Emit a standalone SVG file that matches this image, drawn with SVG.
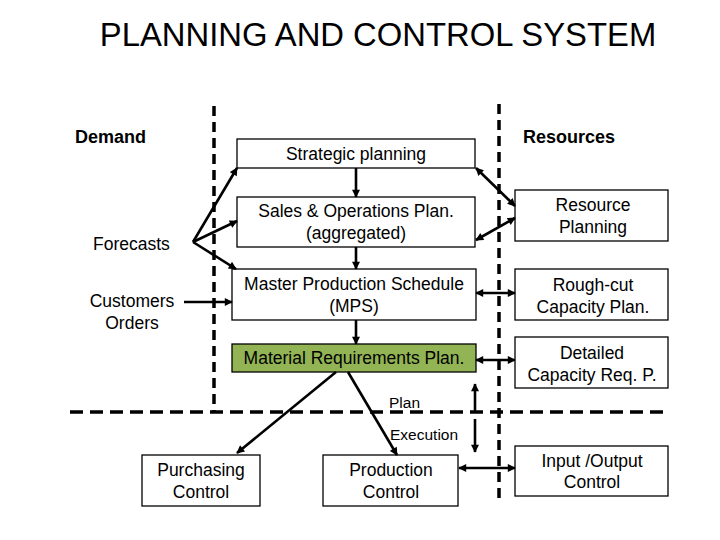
<svg xmlns="http://www.w3.org/2000/svg" width="720" height="540" viewBox="0 0 720 540">
<style>
.t{font-family:"Liberation Sans",Arial,sans-serif;fill:#000}
.box{fill:#fff;stroke:#000;stroke-width:1.3}
.bt{font-size:17.5px;text-anchor:middle}
.c{stroke:#000;stroke-width:2.6;fill:none}
.d{stroke:#000;stroke-width:3.5;fill:none}
</style>
<defs>
<marker id="ah" viewBox="0 0 10 10" refX="9" refY="5" markerWidth="9" markerHeight="8" markerUnits="userSpaceOnUse" orient="auto-start-reverse">
<path d="M0,0 L10,5 L0,10 z" fill="#000"/>
</marker>
</defs>
<rect width="720" height="540" fill="#fff"/>
<text class="t" x="378" y="46" font-size="32.8" text-anchor="middle">PLANNING AND CONTROL SYSTEM</text>

<g id="boundaries">
<line class="d" x1="214" y1="106" x2="214" y2="412" stroke-dasharray="10 6"/>
<line class="d" x1="499" y1="104" x2="499" y2="502" stroke-dasharray="10 6"/>
<line class="d" x1="70" y1="412" x2="668" y2="412" stroke-dasharray="13 7"/>
</g>

<g id="labels">
<text class="t" x="75" y="143" font-size="18" font-weight="bold">Demand</text>
<text class="t" x="569" y="143" font-size="18" font-weight="bold" text-anchor="middle">Resources</text>
<text class="t" x="93" y="250" font-size="17.5">Forecasts</text>
<text class="t" x="132" y="307" font-size="17.5" text-anchor="middle">Customers</text>
<text class="t" x="132" y="329" font-size="17.5" text-anchor="middle">Orders</text>
<text class="t" x="389" y="408" font-size="15.5" fill="#222">Plan</text>
<text class="t" x="390" y="440" font-size="15.5" fill="#222">Execution</text>
</g>

<g id="strategic">
<rect class="box" x="237" y="139" width="238" height="29"/>
<text class="t bt" x="356" y="160">Strategic planning</text>
</g>
<g id="sop">
<rect class="box" x="237" y="197" width="238" height="50"/>
<text class="t bt" x="356" y="217">Sales &amp; Operations Plan.</text>
<text class="t bt" x="356" y="239">(aggregated)</text>
</g>
<g id="mps">
<rect class="box" x="232" y="269" width="244" height="51"/>
<text class="t bt" x="354" y="290">Master Production Schedule</text>
<text class="t bt" x="354" y="312">(MPS)</text>
</g>
<g id="mrp">
<rect x="232" y="344" width="244" height="28" fill="#92b454" stroke="#000" stroke-width="1.3"/>
<text class="t bt" x="354" y="364">Material Requirements Plan.</text>
</g>
<g id="resource-planning">
<rect class="box" x="515" y="190" width="153" height="51"/>
<text class="t bt" x="593" y="211">Resource</text>
<text class="t bt" x="593" y="233">Planning</text>
</g>
<g id="rough-cut">
<rect class="box" x="515" y="269" width="153" height="51"/>
<text class="t bt" x="593" y="291">Rough-cut</text>
<text class="t bt" x="593" y="313">Capacity Plan.</text>
</g>
<g id="detailed">
<rect class="box" x="515" y="337" width="153" height="51"/>
<text class="t bt" x="592" y="359">Detailed</text>
<text class="t bt" x="592" y="381">Capacity Req. P.</text>
</g>
<g id="io-control">
<rect class="box" x="515" y="446" width="153" height="50"/>
<text class="t bt" x="592" y="467">Input /Output</text>
<text class="t bt" x="592" y="488">Control</text>
</g>
<g id="purchasing">
<rect class="box" x="142" y="455" width="118" height="51"/>
<text class="t bt" x="201" y="476">Purchasing</text>
<text class="t bt" x="201" y="498">Control</text>
</g>
<g id="production">
<rect class="box" x="323" y="455" width="135" height="51"/>
<text class="t bt" x="391" y="476">Production</text>
<text class="t bt" x="391" y="498">Control</text>
</g>

<g id="connectors">
<line class="c" x1="193" y1="242" x2="237" y2="168" marker-end="url(#ah)"/>
<line class="c" x1="193" y1="242" x2="237" y2="221" marker-end="url(#ah)"/>
<line class="c" x1="193" y1="242" x2="236" y2="269" marker-end="url(#ah)"/>
<line class="c" x1="184" y1="302" x2="232" y2="302" marker-end="url(#ah)"/>
<line class="c" x1="356" y1="168" x2="356" y2="197" marker-end="url(#ah)"/>
<line class="c" x1="356" y1="247" x2="356" y2="269" marker-end="url(#ah)"/>
<line class="c" x1="356" y1="320" x2="356" y2="344" marker-end="url(#ah)"/>
<line class="c" x1="476" y1="168" x2="515" y2="206" marker-start="url(#ah)" marker-end="url(#ah)"/>
<line class="c" x1="476" y1="240" x2="515" y2="218" marker-start="url(#ah)" marker-end="url(#ah)"/>
<line class="c" x1="476" y1="293" x2="515" y2="293" marker-start="url(#ah)" marker-end="url(#ah)"/>
<line class="c" x1="476" y1="360" x2="515" y2="360" marker-start="url(#ah)" marker-end="url(#ah)"/>
<line class="c" x1="336" y1="372" x2="237" y2="453" marker-end="url(#ah)"/>
<line class="c" x1="348" y1="372" x2="397" y2="455" marker-end="url(#ah)"/>
<line class="c" x1="475" y1="412" x2="475" y2="384" marker-end="url(#ah)"/>
<line class="c" x1="475" y1="419" x2="475" y2="452" marker-end="url(#ah)"/>
<line class="c" x1="459" y1="468" x2="515" y2="468" marker-start="url(#ah)" marker-end="url(#ah)"/>
</g>
</svg>
